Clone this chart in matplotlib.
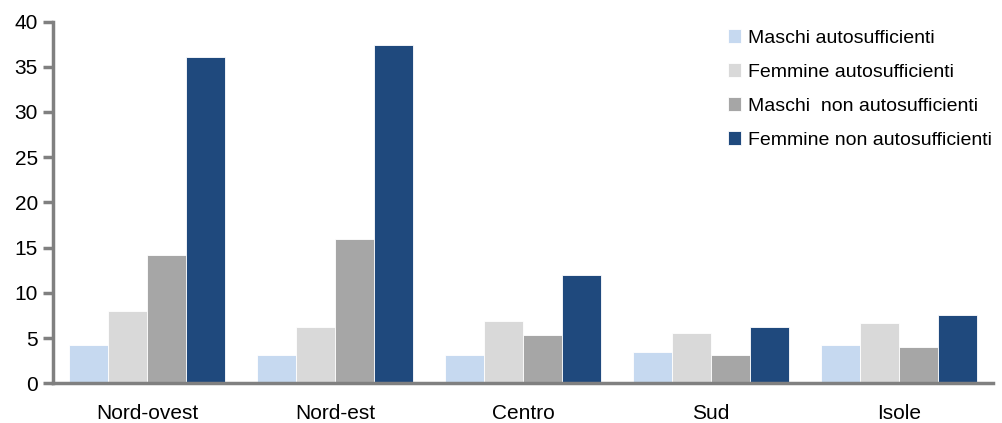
import numpy as np
import matplotlib.pyplot as plt

plt.rcParams['font.family'] = ['Liberation Sans', 'DejaVu Sans']

regions = ["Nord-ovest", "Nord-est", "Centro", "Sud", "Isole"]
maschi_auto = [4.2, 3.1, 3.1, 3.4, 4.2]
femmine_auto = [8.0, 6.2, 6.9, 5.6, 6.7]
maschi_non = [14.2, 16.0, 5.3, 3.1, 4.0]
femmine_non = [36.1, 37.4, 12.0, 6.2, 7.6]

series = [
    ("Maschi autosufficienti", maschi_auto, "#C6D9F0"),
    ("Femmine autosufficienti", femmine_auto, "#D9D9D9"),
    ("Maschi  non autosufficienti", maschi_non, "#A6A6A6"),
    ("Femmine non autosufficienti", femmine_non, "#1F497D"),
]

fig = plt.figure(figsize=(10.02, 4.23), dpi=100)
ax = fig.add_axes([0.053, 0.094, 0.938, 0.855])

x = np.arange(len(regions))
w = 0.207
for i, (label, vals, col) in enumerate(series):
    ax.bar(x + (i - 1.5) * w, vals, w, color=col, label=label,
           edgecolor="white", linewidth=0.6)

ax.set_xlim(-0.5, len(regions) - 0.5)
ax.set_ylim(0, 40)
ax.set_yticks(range(0, 41, 5))
ax.set_xticks(x)
ax.set_xticklabels(regions)

for s in ["top", "right"]:
    ax.spines[s].set_visible(False)
for s in ["left", "bottom"]:
    ax.spines[s].set_color("#808080")
    ax.spines[s].set_linewidth(2.5)
ax.tick_params(axis="y", direction="out", length=7, width=2.5, color="#808080",
               labelsize=15, pad=4)
ax.tick_params(axis="x", length=0, labelsize=15, pad=15)

ax.legend(loc="upper left", bbox_to_anchor=(0.71, 1.0), frameon=False,
          fontsize=14, handlelength=0.68, handleheight=0.68, handletextpad=0.35,
          labelspacing=0.85, borderaxespad=0.0)

fig.savefig("out.png", dpi=100)
